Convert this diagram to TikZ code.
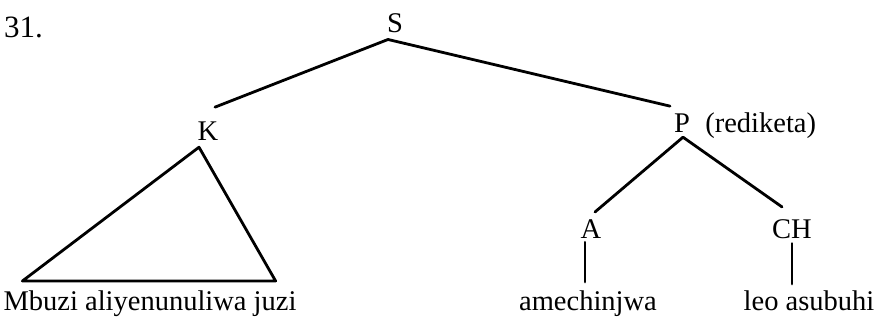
\documentclass[tikz,border=0pt]{standalone}
\usepackage{fontspec}
\setmainfont{Liberation Serif}
\usepackage{tikz}
\usetikzlibrary{positioning, calc}
\tikzstyle{cat} = [inner sep=0pt, font=\fontsize{28.5}{32}\selectfont]
\tikzstyle{branch} = [line width=2.8pt, line cap=round]

\begin{document}
\begin{tikzpicture}[x=1pt, y=-1pt]
        \useasboundingbox (0,0) rectangle (879,324);

        \node[cat, anchor=base west, font=\fontsize{31}{34}\selectfont] (num) at (4,37) {31.};
        \node[cat, anchor=base] (S) at (395,32) {S};
        \node[cat, anchor=base] (K) at (208,140) {K};
        \node[cat, anchor=base] (P) at (682,132) {P};
        \node[cat, right=15pt of P.base east, anchor=base west] (Pgloss) {(rediketa)};
        \node[cat, anchor=base] (A) at (591,238) {A};
        \node[cat, anchor=base] (CH) at (792,238) {CH};
        \node[cat, anchor=base] (mbuzi) at (150,310) {Mbuzi aliyenunuliwa juzi};
        \node[cat, anchor=base] (ame) at (588,310) {amechinjwa};
        \node[cat, anchor=base] (leo) at (809,310) {leo asubuhi};

        \draw[branch] ($(S.south)+(-7,7)$) -- ($(K.north)+(7,-14)$);
        \draw[branch] ($(S.south)+(-7,7)$) -- ($(P.north)+(-12,-7)$);
        \draw[branch] ($(P.south)+(1,5)$) -- ($(A.north)+(4,-7)$);
        \draw[branch] ($(P.south)+(1,5)$) -- ($(CH.north)+(-10,-12)$);
        \draw[branch] ($(A.south)+(-6,4)$) -- ($(ame.north -| A.south)+(-6,-8)$);
        \draw[branch] ($(CH.south)+(0,5)$) -- ($(leo.north -| CH.south)+(0,-6)$);
        \draw[branch, line join=round] ($(K.south)+(-9,7)$) -- ($(mbuzi.north east)+(-21,-9)$) -- ($(mbuzi.north west)+(19,-9)$) -- cycle;

    \end{tikzpicture}
\end{document}
